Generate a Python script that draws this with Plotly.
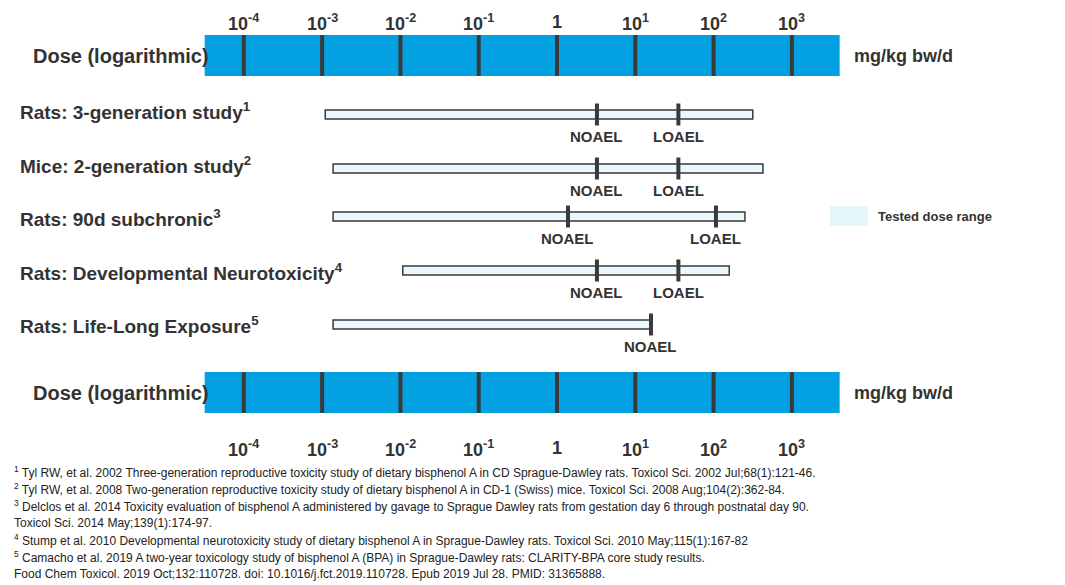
import plotly.graph_objects as go

decades = [-4, -3, -2, -1, 0, 1, 2, 3]
tick_labels = ["10<sup>-4</sup>", "10<sup>-3</sup>", "10<sup>-2</sup>", "10<sup>-1</sup>", "1",
               "10<sup>1</sup>", "10<sup>2</sup>", "10<sup>3</sup>"]
studies = ["Rats: 3-generation study<sup>1</sup>", "Mice: 2-generation study<sup>2</sup>",
           "Rats: 90d subchronic<sup>3</sup>", "Rats: Developmental Neurotoxicity<sup>4</sup>",
           "Rats: Life-Long Exposure<sup>5</sup>"]
# log10 dose (mg/kg bw/d)
range_low = [-2.96, -2.86, -2.86, -1.97, -2.86]
range_high = [2.5, 2.63, 2.4, 2.2, 1.2]
noael = [0.51, 0.51, 0.14, 0.51, 1.2]
loael = [1.55, 1.55, 2.03, 1.55, None]
dose_axis = [-4.5, 3.61]
footnotes = [
    "<sup>1</sup> Tyl RW, et al. 2002 Three-generation reproductive toxicity study of dietary bisphenol A in CD Sprague-Dawley rats. Toxicol Sci. 2002 Jul;68(1):121-46.",
    "<sup>2</sup> Tyl RW, et al. 2008 Two-generation reproductive toxicity study of dietary bisphenol A in CD-1 (Swiss) mice. Toxicol Sci. 2008 Aug;104(2):362-84.",
    "<sup>3</sup> Delclos et al. 2014 Toxicity evaluation of bisphenol A administered by gavage to Sprague Dawley rats from gestation day 6 through postnatal day 90.",
    "Toxicol Sci. 2014 May;139(1):174-97.",
    "<sup>4</sup> Stump et al. 2010 Developmental neurotoxicity study of dietary bisphenol A in Sprague-Dawley rats. Toxicol Sci. 2010 May;115(1):167-82",
    "<sup>5</sup> Camacho et al. 2019 A two-year toxicology study of bisphenol A (BPA) in Sprague-Dawley rats: CLARITY-BPA core study results.",
    "Food Chem Toxicol. 2019 Oct;132:110728. doi: 10.1016/j.fct.2019.110728. Epub 2019 Jul 28. PMID: 31365888.",
]

FONT = "Liberation Sans, Arial, sans-serif"
BLUE = "#03a0e2"
DARK = "#3a3a3a"
TXT = "#333333"
W = 1065.0
shapes, ann = [], []

def px(x):
    return x / W

def dose_bar(y0, y1):
    shapes.append(dict(type="rect", x0=dose_axis[0], x1=dose_axis[1], y0=y0, y1=y1,
                       fillcolor=BLUE, line=dict(width=0), layer="below"))
    for d in decades:
        shapes.append(dict(type="line", x0=d, x1=d, y0=y0, y1=y1, line=dict(color=DARK, width=4)))
    ann.append(dict(x=px(203), xref="paper", y=(y0 + y1) / 2, text="<b>Dose (logarithmic)</b>", xanchor="right",
                    showarrow=False, font=dict(size=20, color=TXT)))
    ann.append(dict(x=px(844), xref="paper", y=(y0 + y1) / 2, text="<b>mg/kg bw/d</b>", xanchor="left",
                    showarrow=False, font=dict(size=18, color=TXT)))

dose_bar(27, 68)
dose_bar(364, 405)
for d, t in zip(decades, tick_labels):
    ann.append(dict(x=d, y=14, text="<b>" + t + "</b>", showarrow=False, font=dict(size=18, color=TXT)))
    ann.append(dict(x=d, y=440, text="<b>" + t + "</b>", showarrow=False, font=dict(size=18, color=TXT)))

row_y = [106.5, 160.5, 208.5, 262.5, 316.5]
label_y = [103, 157, 210, 264, 317]
for i, s in enumerate(studies):
    y = row_y[i]
    ann.append(dict(x=px(10), xref="paper", y=label_y[i], text="<b>" + s + "</b>", xanchor="left",
                    showarrow=False, font=dict(size=19, color=TXT)))
    shapes.append(dict(type="rect", x0=range_low[i], x1=range_high[i], y0=y - 4.5, y1=y + 4.5,
                       fillcolor="#eaf7fd", line=dict(color=DARK, width=1.5)))
    for v, name in ((noael[i], "NOAEL"), (loael[i], "LOAEL")):
        if v is None:
            continue
        shapes.append(dict(type="line", x0=v, x1=v, y0=y - 11, y1=y + 11, line=dict(color=DARK, width=4)))
        ann.append(dict(x=v, y=y + 22, text="<b>" + name + "</b>", showarrow=False,
                        font=dict(size=15, color=TXT)))

# legend
shapes.append(dict(type="rect", xref="paper", x0=px(822), x1=px(860), y0=198, y1=218,
                   fillcolor="#e6f6fd", line=dict(width=0)))
ann.append(dict(x=px(868), xref="paper", y=208, text="<b>Tested dose range</b>", xanchor="left", showarrow=False,
                font=dict(size=13, color=TXT)))

for k, f in enumerate(footnotes):
    ann.append(dict(x=px(4), xref="paper", y=464 + k * 17, text=f, xanchor="left", showarrow=False,
                    font=dict(size=12, color="#222")))

fig = go.Figure()
fig.update_layout(width=1065, height=585, margin=dict(l=0, r=0, t=0, b=0),
                  paper_bgcolor="white", plot_bgcolor="white", font=dict(family=FONT),
                  xaxis=dict(range=[-7.012, 6.590], visible=False, fixedrange=True),
                  yaxis=dict(range=[585, 0], visible=False, fixedrange=True),
                  shapes=shapes, annotations=ann, showlegend=False)
fig.write_html("out.html")
